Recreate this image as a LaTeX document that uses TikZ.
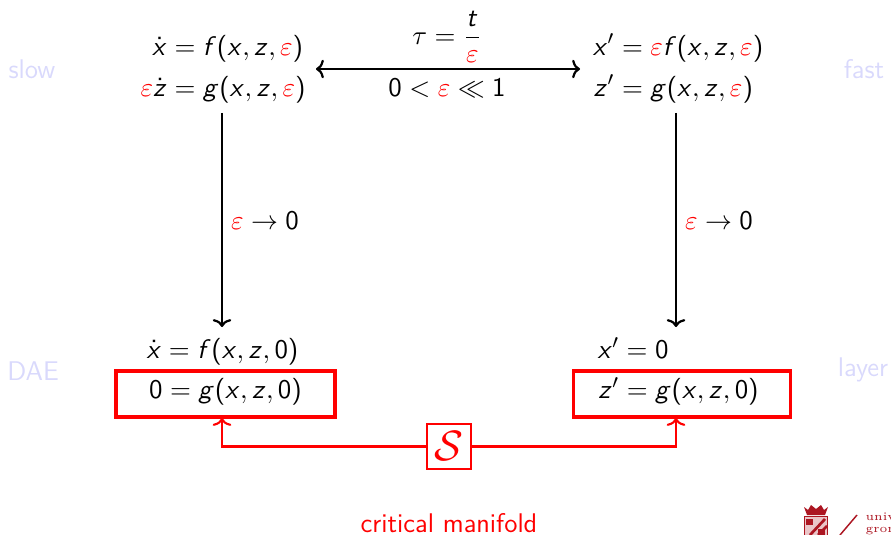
\documentclass[tikz,border=0pt]{standalone}
\usepackage{amsmath}
\usepackage{amssymb}
\usepackage{xcolor}
\usepackage{tikz}
\usetikzlibrary{arrows.meta}
\renewcommand{\familydefault}{\sfdefault}
\DeclareSymbolFont{operators}{OT1}{cmss}{m}{n}
\DeclareSymbolFont{sfslanted}{OT1}{cmss}{m}{sl}
\DeclareMathSymbol{f}{\mathalpha}{sfslanted}{`f}
\DeclareMathSymbol{g}{\mathalpha}{sfslanted}{`g}
\DeclareMathSymbol{t}{\mathalpha}{sfslanted}{`t}
\DeclareMathSymbol{x}{\mathalpha}{sfslanted}{`x}
\DeclareMathSymbol{z}{\mathalpha}{sfslanted}{`z}
\definecolor{pale}{RGB}{217,217,252}
\definecolor{crest}{RGB}{172,22,34}
\newcommand{\eps}{{\color{red}\varepsilon}}
\begin{document}
\begin{tikzpicture}[x=0.4074pt,y=-0.4074pt,
tip/.tip={Computer Modern Rightarrow[width=7.6pt,length=3.2pt]},
mapsto/.style={draw=black,line width=0.9pt,{tip}-{tip}},
limit/.style={draw=black,line width=0.9pt,-{tip}},
link/.style={draw=red,line width=0.85pt,-{tip}},
sys/.style={inner sep=0pt,font=\fontsize{11}{13.6}\selectfont},
redbox/.style={sys,draw=red,line width=1.6pt,minimum height=19pt,text height=9pt,text depth=5.5pt},
side/.style={pale,font=\fontsize{11}{13.6}\selectfont},
logotext/.style={inner sep=0pt,anchor=base west,font=\rmfamily\fontsize{4.7}{6}\selectfont}]
\useasboundingbox (0,0) rectangle (891,535);
% the four systems
\node[sys] (slowsys) at (223,69.5) {$\begin{aligned}\dot x &= f(x,z,\eps)\\ \eps\dot z &= g(x,z,\eps)\end{aligned}$};
\node[sys] (fastsys) at (678,69.5) {$\begin{aligned}x' &= \eps f(x,z,\eps)\\ z' &= g(x,z,\eps)\end{aligned}$};
\node[sys] (daeup) at (222.5,352) {$\dot x = f(x,z,0)$};
\node[sys] (layerup) at (633,348) {$x' = 0$};
\node[redbox,minimum width=89.5pt] (daebox) at (225.5,394) {$0 = g(x,z,0)$};
\node[redbox,minimum width=88.4pt] (layerbox) at (682,394) {$z' = g(x,z,0)$\hspace*{2.8pt}};
\node[sys,draw=red,line width=0.85pt,minimum size=18pt] (sbox) at (449,446.5) {\color{red}\LARGE$\mathcal{S}$};
% labels
\node[sys] (scale) at (447,37) {$\tau = \dfrac{t}{\eps}$};
\node[sys] (range) at (447,88) {$0 < \eps \ll 1$};
\node[sys] (limleft) at (265,221) {$\eps \to 0$};
\node[sys] (limright) at (719,221) {$\eps \to 0$};
\node[sys,red] (critical) at (449,523.5) {critical manifold};
\node[side] (slow) at (32,69) {slow};
\node[side] (fast) at (864,69) {fast};
\node[side] (dae) at (33,371) {DAE};
\node[side] (layer) at (863,370) {layer};
% free ends
\coordinate (leftin) at (316,69);
\coordinate (rightin) at (580,69);
\coordinate (leftout) at (222,113);
\coordinate (leftlim) at (222,327);
\coordinate (rightout) at (676,113);
\coordinate (rightlim) at (676,327);
\coordinate (daein) at (222,418);
\coordinate (layerin) at (676,418);
% connectors
\draw[mapsto] (leftin) -- (rightin);
\draw[limit] (leftout) -- (leftlim);
\draw[limit] (rightout) -- (rightlim);
\draw[link] (sbox.west) -| (daein);
\draw[link] (sbox.east) -| (layerin);
% logo
\begin{scope}[crest]
\fill (804,507) -- (808,510) -- (811,505) -- (816,509) -- (821,505) -- (824,510) -- (828,507) -- (825,515) -- (807,515) -- cycle;
\fill[crest!25] (804,516) rectangle (827,535);
\draw[line width=0.35pt] (804,516) rectangle (827,535);
\fill (806,519) rectangle (813,525);
\fill (818,529) rectangle (825,535);
\draw[line width=1.1pt] (810,535) -- (825,519);
\draw[line width=1.1pt] (818,535) -- (827,526);
\draw[line width=0.6pt] (840,535) -- (857,515);
\node[logotext] (univ) at (865,520) {univ};
\node[logotext] (gron) at (865,532) {gron};
\end{scope}
\end{tikzpicture}
\end{document}
